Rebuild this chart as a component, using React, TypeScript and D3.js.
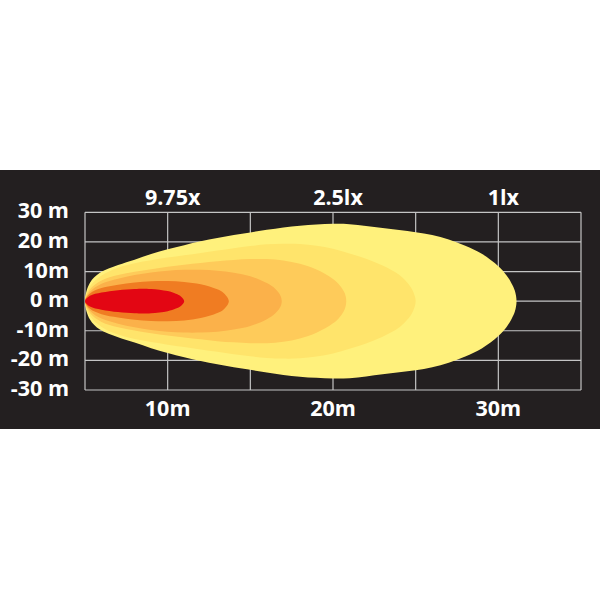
import React from 'react';
import * as d3 from 'd3';

// grid lines (meters)
const gridX = [5, 10, 15, 20, 25, 30, 35];
const gridY = [30, 20, 10, 0, -10, -20, -30];

// axis labels
const yLabels = ['30 m', '20 m', '10m', '0 m', '-10m', '-20 m', '-30 m'];
const xTicks = [10, 20, 30];
const xLabels = ['10m', '20m', '30m'];
const luxLabels = ['9.75x', '2.5lx', '1lx'];

// beam contours, upper half: [distance m, half width m]
const beam1lx = [[5, 0], [5.3, 6.2], [5.9, 9.6], [7, 12.2], [8, 14], [9, 15.9], [10, 17.5], [11, 18.9], [12, 20.2], [13, 21.3], [14, 22.3], [15, 23.2], [16, 24.1], [17, 24.9], [18, 25.5], [19, 25.9], [20, 26.1], [21, 26], [22, 25.4], [23, 24.7], [24, 24], [25, 23.3], [26, 22.3], [27, 20.8], [28, 18.7], [29, 16], [30, 11.8], [30.5, 8.7], [30.8, 6], [31, 3.5], [31.1, 0]];
const beam2lx = [[5, 0], [5.3, 5], [6, 8.7], [7, 11.3], [8, 12.8], [9, 13.8], [10, 14.7], [11, 15.5], [12, 16.3], [13, 17.1], [14, 17.9], [15, 18.6], [16, 19.2], [17, 19.4], [18, 19.3], [19, 18.7], [20, 17.7], [21, 16.1], [22, 14.3], [23, 12], [24, 8.9], [24.5, 6.2], [24.8, 3.8], [25, 0]];
const beam5lx = [[5, 0], [5.3, 4], [6, 7], [7, 8.8], [8, 9.9], [9, 10.8], [10, 11.6], [11, 12.3], [12, 12.9], [13, 13.5], [14, 13.9], [15, 14.2], [16, 14.2], [17, 13.7], [18, 12.6], [19, 10.7], [20, 7.5], [20.4, 5.4], [20.7, 2.8], [20.8, 0]];
const beam10lx = [[5, 0], [5.3, 3.2], [6, 5.9], [7, 7.6], [8, 8.8], [9, 9.7], [10, 10.3], [11, 10.6], [12, 10.6], [13, 10.3], [14, 9.6], [15, 8.4], [16, 6.1], [16.5, 4.2], [16.8, 2.1], [16.9, 0]];
const beam20lx = [[5, 0], [5.3, 2.6], [6, 4.4], [7, 5.5], [8, 6.3], [9, 6.7], [10, 6.8], [11, 6.5], [12, 5.7], [13, 4], [13.4, 2.7], [13.7, 0]];
const beam50lx = [[5, 0], [5.3, 1.8], [6, 2.9], [7, 3.7], [8, 4.1], [8.5, 4.2], [9, 4.1], [10, 3.4], [10.5, 2.5], [10.8, 1.6], [11, 0]];

const beams = [beam1lx, beam2lx, beam5lx, beam10lx, beam20lx, beam50lx];
const beamColors = ['#fff17c', '#ffe46b', '#fecb5a', '#fbb14a', '#f07c22', '#e30613'];

const App = () => {
    const x = d3.scaleLinear().domain([5, 35]).range([85, 581]);
    const y = d3.scaleLinear().domain([-30, 30]).range([390, 212.3]);

    const line = d3.line().curve(d3.curveCatmullRomClosed.alpha(0.5));
    const shape = (pts) => {
        const upper = pts.map(([d, h]) => [x(d), y(h)]);
        const lower = pts.slice(1, -1).reverse().map(([d, h]) => [x(d), y(-h)]);
        return line(upper.concat(lower));
    };

    const font = { fontFamily: '"Open Sans", sans-serif', fontWeight: 700, fontSize: 21.5, fill: '#fff' };

    return (
        <svg width={600} height={600} style={{ position: 'absolute', left: 0, top: 0, background: '#fff' }}>
            <rect x={0} y={170} width={600} height={259} fill="#231f20" />

            {gridX.map((g) => (
                <line key={'gx' + g} x1={x(g)} x2={x(g)} y1={y(30)} y2={y(-30)} stroke="#c4c4c4" strokeWidth={1.2} />
            ))}
            {gridY.map((g) => (
                <line key={'gy' + g} x1={x(5)} x2={x(35)} y1={y(g)} y2={y(g)} stroke="#c4c4c4" strokeWidth={1.2} />
            ))}

            {beams.map((b, i) => (
                <path key={i} d={shape(b)} fill={beamColors[i]} />
            ))}

            {gridY.map((g, i) => (
                <text key={'yl' + g} x={69} y={y(g) + 6} textAnchor="end" style={font}>{yLabels[i]}</text>
            ))}
            {xTicks.map((t, i) => (
                <text key={'xl' + t} x={x(t)} y={416} textAnchor="middle" style={font}>{xLabels[i]}</text>
            ))}
            {xTicks.map((t, i) => (
                <text key={'lx' + t} x={x(t) + 5} y={205} textAnchor="middle" style={font}>{luxLabels[i]}</text>
            ))}
        </svg>
    );
};

export default App;
